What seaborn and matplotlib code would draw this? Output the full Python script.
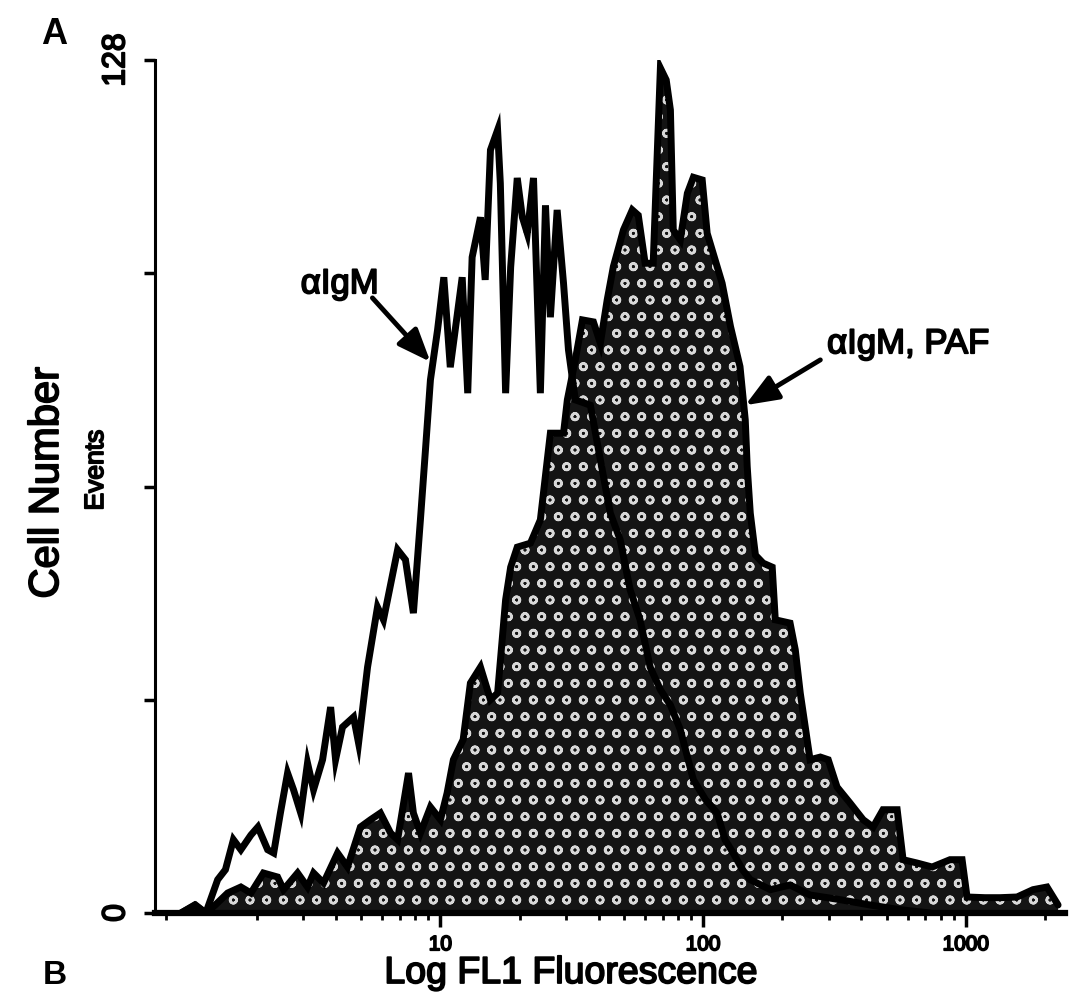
import numpy as np
import pandas as pd
import matplotlib
matplotlib.use("Agg")
import matplotlib.pyplot as plt
import matplotlib.patheffects as pe
from matplotlib.ticker import FixedLocator, FixedFormatter, LogLocator, NullFormatter
import seaborn as sns

# ---- data: log FL1 fluorescence (channel value) vs. events ----
igm_fl = [1.03, 1.17, 1.28, 1.42, 1.52, 1.63, 1.74, 1.90, 2.02, 2.20,
          2.32, 2.46, 2.62, 2.76, 2.94, 3.12, 3.29, 3.56, 3.82, 3.99,
          4.24, 4.67, 4.88, 5.28, 5.76, 6.07, 6.87, 7.36, 7.89, 8.39,
          8.77, 9.16, 9.75, 10.3, 10.9, 12.1, 12.7, 13.2, 14.2, 14.8,
          15.5, 16.5, 16.9, 17.7, 18.5, 19.6, 20.5, 21.4, 22.6, 24.0,
          25.1, 26.2, 27.8, 29.4, 30.7, 32.6, 37.2, 40.6, 44.3, 48.3,
          52.7, 57.5, 62.8, 68.7, 75.0, 81.8, 91.7, 102, 113, 121,
          130, 141, 151, 180, 214, 255, 332, 432, 561, 730]
igm_events = [0, 1.2, 0, 5.0, 6.5, 11.0, 9.5, 11.7, 12.9, 9.5,
              9.0, 15.0, 21.0, 18.5, 15.0, 22.5, 18.5, 23.0, 30.9, 23.0,
              27.9, 29.4, 25.5, 36.9, 45.9, 44.0, 54.5, 53.0, 45.0, 59.0,
              69.5, 80.0, 87.5, 95.4, 81.9, 95.4, 78.0, 98.4, 104.4, 95.0,
              114.5, 117.5, 109.5, 78.0, 96.9, 110.3, 104.4, 102.0, 110.3, 78.0,
              106.2, 89.4, 105.5, 94.5, 84.5, 77.0, 76.2, 68.0, 60.0, 56.0,
              48.5, 44.0, 36.9, 33.5, 31.2, 27.5, 20.0, 17.0, 15.0, 11.0,
              9.0, 6.5, 5.0, 3.5, 4.2, 2.7, 2.0, 1.2, 0.5, 0]

paf_fl = [1.03, 1.16, 1.28, 1.39, 1.55, 1.74, 1.90, 2.12, 2.40, 2.53,
          2.86, 3.12, 3.29, 3.59, 4.06, 4.43, 4.96, 5.42, 5.91, 6.46,
          6.87, 7.56, 7.89, 8.39, 9.16, 10.0, 10.6, 11.2, 12.2, 13.0,
          14.2, 15.5, 16.5, 17.7, 18.5, 19.6, 22.0, 24.0, 25.5, 26.2,
          29.4, 30.4, 32.6, 34.7, 38.2, 40.6, 43.1, 45.5, 49.7, 53.7,
          56.6, 60.1, 64.5, 68.7, 72.3, 75.0, 76.9, 81.8, 87.0, 91.7,
          99.1, 103.5, 111, 118, 127, 138, 144.5, 147, 151, 158,
          169, 183, 188, 214, 224, 234, 255, 279, 299, 323,
          362, 406, 443, 483, 547, 576, 651, 743, 869, 966,
          1009, 1181, 1346, 1563, 1798, 2033, 2240]
paf_events = [0, 1.2, 0, 1.2, 3.0, 3.9, 3.0, 6.0, 5.4, 3.5,
              6.0, 3.9, 6.0, 4.5, 9.0, 6.9, 12.9, 14.0, 15.0, 12.0,
              11.0, 21.0, 15.0, 12.0, 15.9, 14.0, 18.0, 23.0, 26.0, 34.5,
              36.9, 32.0, 33.0, 47.0, 51.9, 54.9, 55.5, 59.0, 68.0, 72.0,
              72.0, 77.0, 83.0, 89.0, 88.7, 85.5, 92.0, 97.0, 102.5, 105.5,
              104.7, 97.5, 97.5, 126.8, 125.0, 120.5, 102.5, 101.0, 108.0, 110.4,
              110.0, 102.0, 98.0, 94.5, 88.0, 82.0, 74.0, 67.0, 60.0, 53.7,
              52.5, 51.9, 44.0, 43.5, 39.5, 33.0, 23.0, 23.4, 23.0, 18.9,
              16.5, 14.0, 12.9, 15.5, 15.5, 8.0, 7.5, 6.9, 8.0, 8.0,
              2.4, 2.3, 2.3, 2.4, 3.5, 3.9, 1.2]

x_ticks = [10, 100, 1000]
x_tick_labels = ["10", "100", "1000"]
y_ticks = [0, 32, 64, 96, 128]
y_tick_labels = ["0", "", "", "", "128"]

label_igm = "αIgM"
label_paf = "αIgM, PAF"

# ---- style ----
sns.set_theme(style="ticks")
plt.rcParams['font.family'] = ['Liberation Sans', 'DejaVu Sans']
plt.rcParams['hatch.linewidth'] = 1.8

thick = [pe.withStroke(linewidth=1.3, foreground='black')]

fig = plt.figure(figsize=(10.71, 10.06), dpi=100)
ax = fig.add_axes([155 / 1071, 93 / 1006, 910 / 1071, 853 / 1006])

df_igm = pd.DataFrame({"fl": igm_fl, "events": igm_events})
df_paf = pd.DataFrame({"fl": paf_fl, "events": paf_events})

ax.fill_between(df_paf["fl"], df_paf["events"], 0,
                facecolor="#141414", edgecolor="#d8d8d8", hatch="o", linewidth=0)
sns.lineplot(data=df_paf, x="fl", y="events", ax=ax, color="black", lw=5,
             estimator=None, sort=False, solid_joinstyle="miter")
sns.lineplot(data=df_igm, x="fl", y="events", ax=ax, color="black", lw=5,
             estimator=None, sort=False, solid_joinstyle="miter")

ax.set_xscale("log")
ax.set_xlim(0.82, 2380)
ax.set_ylim(0, 128)

ax.xaxis.set_major_locator(FixedLocator(x_ticks))
ax.xaxis.set_major_formatter(FixedFormatter(x_tick_labels))
ax.xaxis.set_minor_locator(LogLocator(base=10, subs=np.arange(2, 10)))
ax.xaxis.set_minor_formatter(NullFormatter())
ax.yaxis.set_major_locator(FixedLocator(y_ticks))
ax.yaxis.set_major_formatter(FixedFormatter(y_tick_labels))

ax.tick_params(axis="x", which="major", length=10, width=2.5, labelsize=15,
               pad=6, color="black", labelcolor="black", direction="out")
ax.tick_params(axis="x", which="minor", length=5, width=2, color="black",
               direction="out")
ax.tick_params(axis="y", which="major", length=8, width=2.5, labelsize=23,
               pad=9, labelrotation=90, color="black", labelcolor="black",
               direction="out")

ax.set_xlabel("")
ax.set_ylabel("")
sns.despine(ax=ax)
ax.spines["left"].set_linewidth(2.2)
ax.spines["bottom"].set_linewidth(4.5)
ax.spines["left"].set_color("black")
ax.spines["bottom"].set_color("black")

for lab in ax.get_xticklabels() + ax.get_yticklabels():
    lab.set_path_effects(thick)
for lab in ax.get_yticklabels():
    lab.set_va("center")

# annotations
arrow_kw = dict(arrowstyle="-|>,head_length=1.0,head_width=0.4", lw=3.5,
                color="black", shrinkA=0, shrinkB=0, mutation_scale=20)
ax.annotate("", xy=(9.16, 82.7), xytext=(5.51, 92.3), arrowprops=arrow_kw)
ax.text(2.94, 93.0, label_igm, fontsize=25, ha="left", va="baseline",
        color="black", path_effects=thick)
ax.annotate("", xy=(144.5, 76.2), xytext=(279, 83.0), arrowprops=arrow_kw)
ax.text(296, 84.0, label_paf, fontsize=25, ha="left", va="baseline",
        color="black", path_effects=thick)

# axis titles and panel letters
fig.text(571 / 1071, 1 - 973 / 1006, "Log FL1 Fluorescence", fontsize=27,
         ha="center", va="center", color="black", path_effects=thick)
fig.text(47 / 1071, 1 - 483 / 1006, "Cell Number", fontsize=30, rotation=90,
         ha="center", va="center", color="black", path_effects=thick)
fig.text(96 / 1071, 1 - 470 / 1006, "Events", fontsize=19, rotation=90,
         ha="center", va="center", color="black", path_effects=thick)
fig.text(54 / 1071, 1 - 35 / 1006, "A", fontsize=26, fontweight="bold",
         ha="center", va="center", color="black")
fig.text(55 / 1071, 1 - 975 / 1006, "B", fontsize=24, fontweight="bold",
         ha="center", va="center", color="black")

fig.savefig("out.png", dpi=100, facecolor="white")
